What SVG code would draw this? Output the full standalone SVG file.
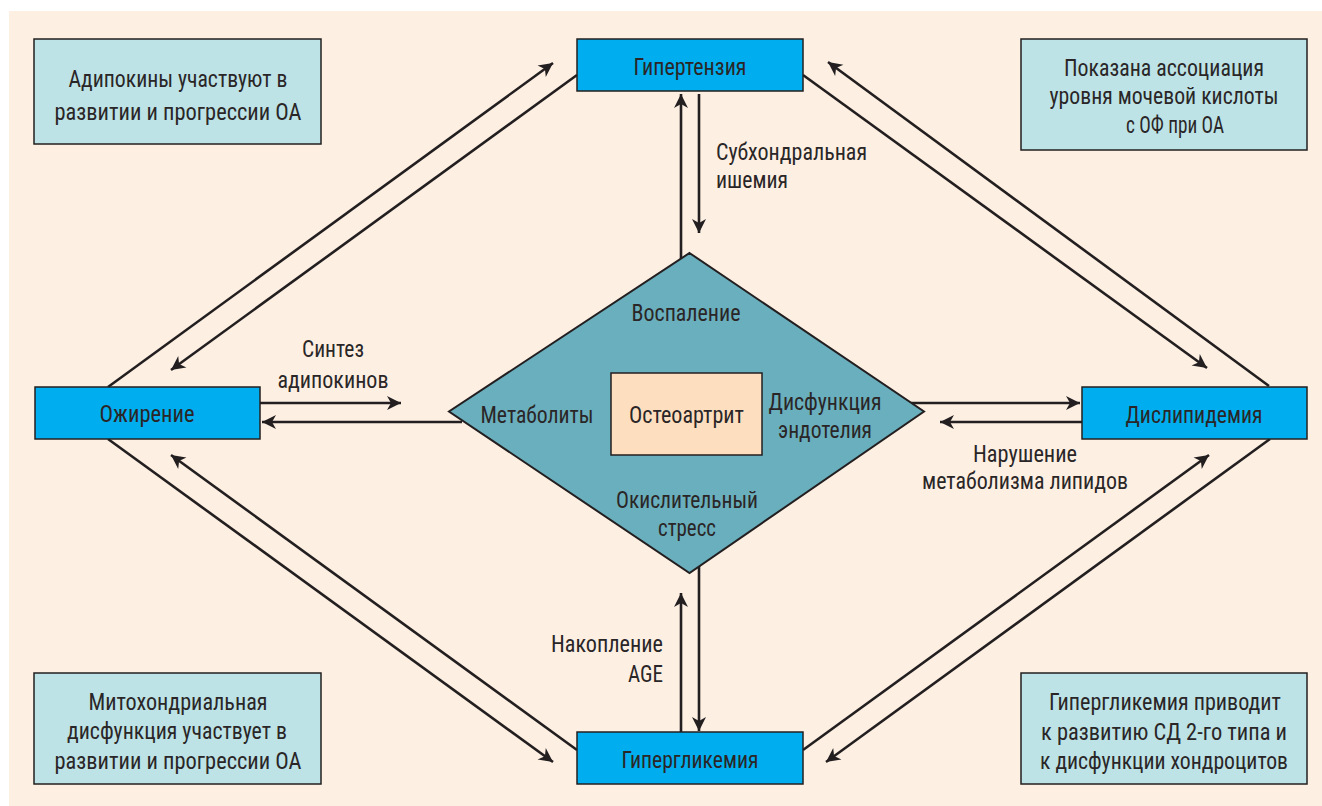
<svg xmlns="http://www.w3.org/2000/svg" width="1322" height="806" viewBox="0 0 1322 806">
<style>
text{font-family:"Liberation Sans Narrow","Roboto Condensed","DejaVu Sans Condensed","Liberation Sans",sans-serif;font-size:24px;fill:#2A2627;text-anchor:middle}
.note{fill:#BDE3E6;stroke:#231F20;stroke-width:1.5}
.blue{fill:#00AEEF;stroke:#231F20;stroke-width:1.5}
.con line{stroke:#231F20;stroke-width:2.6;fill:none}
.st{text-anchor:start}
.en{text-anchor:end}
</style>
<defs>
<marker id="ah" markerUnits="userSpaceOnUse" viewBox="-15 -8 16 16" refX="0" refY="0" markerWidth="16" markerHeight="16" orient="auto">
<path d="M0,0 L-14,-7 L-10,0 L-14,7 Z" fill="#231F20"/>
</marker>
</defs>
<rect x="9" y="11" width="1313" height="795" fill="#FDF0E3"/>

<g id="note-tl"><rect class="note" x="34" y="39" width="287" height="105"/>
<text x="178" y="87" textLength="219" lengthAdjust="spacingAndGlyphs">Адипокины участвуют в</text>
<text x="178" y="120" textLength="247" lengthAdjust="spacingAndGlyphs">развитии и прогрессии ОА</text></g>

<g id="note-tr"><rect class="note" x="1021" y="39" width="286" height="111"/>
<text x="1164" y="76" textLength="200" lengthAdjust="spacingAndGlyphs">Показана ассоциация</text>
<text x="1164" y="104" textLength="229" lengthAdjust="spacingAndGlyphs">уровня мочевой кислоты</text>
<text x="1175" y="133" textLength="98" lengthAdjust="spacingAndGlyphs">с ОФ при ОА</text></g>

<g id="note-bl"><rect class="note" x="34" y="673" width="287" height="111"/>
<text x="178" y="710" textLength="179" lengthAdjust="spacingAndGlyphs">Митохондриальная</text>
<text x="177" y="739" textLength="220" lengthAdjust="spacingAndGlyphs">дисфункция участвует в</text>
<text x="178" y="769" textLength="247" lengthAdjust="spacingAndGlyphs">развитии и прогрессии ОА</text></g>

<g id="note-br"><rect class="note" x="1021" y="673" width="286" height="111"/>
<text x="1165" y="710" textLength="232" lengthAdjust="spacingAndGlyphs">Гипергликемия приводит</text>
<text x="1164" y="740" textLength="246" lengthAdjust="spacingAndGlyphs">к развитию СД 2-го типа и</text>
<text x="1164" y="769" textLength="248" lengthAdjust="spacingAndGlyphs">к дисфункции хондроцитов</text></g>

<g id="connectors" class="con">
<line x1="108" y1="387" x2="553" y2="63" marker-end="url(#ah)"/>
<line x1="577" y1="75" x2="171" y2="370" marker-end="url(#ah)"/>
<line x1="803" y1="75" x2="1207" y2="368" marker-end="url(#ah)"/>
<line x1="1269" y1="386" x2="828" y2="62" marker-end="url(#ah)"/>
<line x1="803" y1="750" x2="1209" y2="455" marker-end="url(#ah)"/>
<line x1="1270" y1="439" x2="826" y2="762" marker-end="url(#ah)"/>
<line x1="108" y1="439" x2="553" y2="762" marker-end="url(#ah)"/>
<line x1="577" y1="750" x2="171" y2="455" marker-end="url(#ah)"/>
<line x1="260" y1="403" x2="401" y2="403" marker-end="url(#ah)"/>
<line x1="462" y1="422" x2="262" y2="422" marker-end="url(#ah)"/>
<line x1="911" y1="403" x2="1080" y2="403" marker-end="url(#ah)"/>
<line x1="1082" y1="422" x2="940" y2="422" marker-end="url(#ah)"/>
<line x1="681" y1="259" x2="681" y2="94" marker-end="url(#ah)"/>
<line x1="699" y1="94" x2="699" y2="233" marker-end="url(#ah)"/>
<line x1="681" y1="732" x2="681" y2="593" marker-end="url(#ah)"/>
<line x1="699" y1="566" x2="699" y2="731" marker-end="url(#ah)"/>
</g>

<g id="labels">
<text x="333" y="357" textLength="62" lengthAdjust="spacingAndGlyphs">Синтез</text>
<text x="333" y="388" textLength="111" lengthAdjust="spacingAndGlyphs">адипокинов</text>
<text class="st" x="716" y="160" textLength="151" lengthAdjust="spacingAndGlyphs">Субхондральная</text>
<text class="st" x="716" y="188" textLength="72" lengthAdjust="spacingAndGlyphs">ишемия</text>
<text x="1025" y="462" textLength="104" lengthAdjust="spacingAndGlyphs">Нарушение</text>
<text x="1025" y="489" textLength="206" lengthAdjust="spacingAndGlyphs">метаболизма липидов</text>
<text class="en" x="663" y="652" textLength="112" lengthAdjust="spacingAndGlyphs">Накопление</text>
<text class="en" x="663" y="682" textLength="35" lengthAdjust="spacingAndGlyphs">AGE</text>
</g>

<g id="hypertension"><rect class="blue" x="577" y="39" width="226" height="52"/>
<text x="690" y="75" textLength="113" lengthAdjust="spacingAndGlyphs">Гипертензия</text></g>

<g id="obesity"><rect class="blue" x="35" y="387" width="225" height="52"/>
<text x="147" y="422" textLength="95" lengthAdjust="spacingAndGlyphs">Ожирение</text></g>

<g id="dyslipidemia"><rect class="blue" x="1082" y="387" width="225" height="52"/>
<text x="1194" y="423" textLength="137" lengthAdjust="spacingAndGlyphs">Дислипидемия</text></g>

<g id="hyperglycemia"><rect class="blue" x="577" y="732" width="226" height="52"/>
<text x="690" y="768" textLength="137" lengthAdjust="spacingAndGlyphs">Гипергликемия</text></g>

<g id="diamond">
<polygon points="689.5,253 924,411.5 689.5,573 449,411.5" fill="#6AAFBD" stroke="#231F20" stroke-width="2"/>
<text x="686" y="321" textLength="109" lengthAdjust="spacingAndGlyphs">Воспаление</text>
<text x="537" y="423" textLength="113" lengthAdjust="spacingAndGlyphs">Метаболиты</text>
<text x="825" y="410" textLength="113" lengthAdjust="spacingAndGlyphs">Дисфункция</text>
<text x="825" y="438" textLength="94" lengthAdjust="spacingAndGlyphs">эндотелия</text>
<text x="687" y="508" textLength="142" lengthAdjust="spacingAndGlyphs">Окислительный</text>
<text x="687" y="536" textLength="58" lengthAdjust="spacingAndGlyphs">стресс</text>
</g>

<g id="osteoarthritis"><rect x="611" y="373" width="151" height="82" fill="#FDDFC0" stroke="#231F20" stroke-width="1.5"/>
<text x="686.5" y="423" textLength="115" lengthAdjust="spacingAndGlyphs">Остеоартрит</text></g>
</svg>
